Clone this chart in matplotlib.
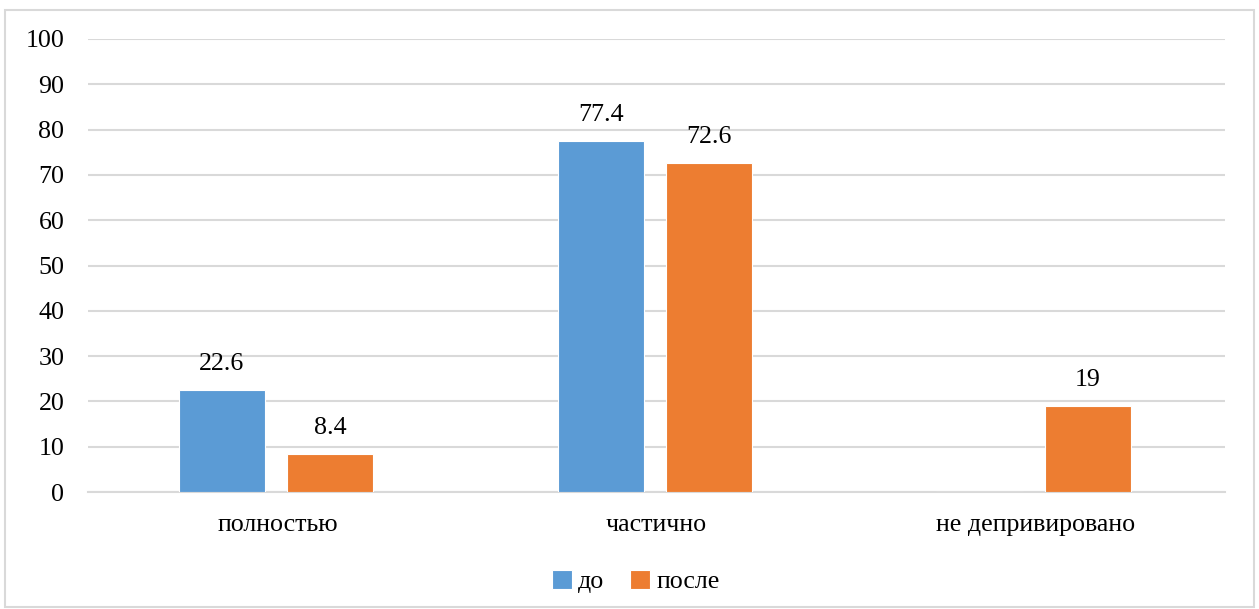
import numpy as np
import matplotlib.pyplot as plt
from matplotlib.patches import Rectangle

plt.rcParams['font.family'] = ['Liberation Serif', 'DejaVu Serif']

categories = ['полностью', 'частично', 'не депривировано']
before = [22.6, 77.4, 0]
after = [8.4, 72.6, 19]
series_names = ['до', 'после']
yticks = [0, 10, 20, 30, 40, 50, 60, 70, 80, 90, 100]

blue = '#5B9BD5'
orange = '#ED7D31'
fs = 18.7

fig = plt.figure(figsize=(12.59, 6.09), dpi=100)
ax = fig.add_axes([0.0699, 0.192, 0.903, 0.744])

# рамка вокруг всего рисунка
fig.patches.append(Rectangle((0.004, 0.003), 0.992, 0.98, transform=fig.transFigure,
                             fill=False, edgecolor='#D9D9D9', linewidth=1.5))

x = np.arange(len(categories))
w = 0.228
off = 0.143
b1 = ax.bar(x - off - 0.004, before, w, color=blue, edgecolor='white', linewidth=0.8, label=series_names[0], zorder=3)
b2 = ax.bar(x + off - 0.004, after, w, color=orange, edgecolor='white', linewidth=0.8, label=series_names[1], zorder=3)

for rect, v in zip(b1, before):
    if v:
        ax.text(rect.get_x() + rect.get_width() / 2, v + 3.3, f'{v:g}', ha='center', va='bottom', fontsize=fs)
for rect, v in zip(b2, after):
    if v:
        ax.text(rect.get_x() + rect.get_width() / 2, v + 3.3, f'{v:g}', ha='center', va='bottom', fontsize=fs)

ax.set_xlim(-0.5, 2.5)
ax.set_ylim(0, 100)
ax.set_yticks(yticks)
ax.set_xticks(x)
ax.set_xticklabels(categories, fontsize=fs)
ax.tick_params(axis='y', labelsize=fs, length=0, pad=17)
ax.tick_params(axis='x', length=0, pad=16)
ax.grid(axis='y', color='#D9D9D9', linewidth=1.5, zorder=0)
for s in ['top', 'right', 'left']:
    ax.spines[s].set_visible(False)
ax.spines['bottom'].set_color('#D9D9D9')
ax.spines['bottom'].set_linewidth(1.5)

fig.legend(loc='center', bbox_to_anchor=(0.505, 0.045), ncol=2, frameon=False, fontsize=fs,
           handlelength=0.75, handleheight=0.75, handletextpad=0.25, columnspacing=1.0)

fig.savefig('out.png', dpi=100)
